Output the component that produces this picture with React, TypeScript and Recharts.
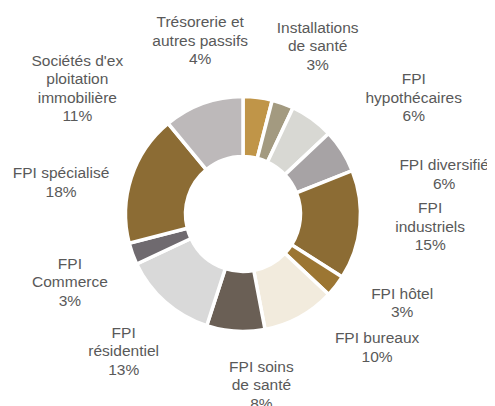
import { Cell, Pie, PieChart } from 'recharts';

// Catégories (lignes de libellé séparées par \n), parts en %
const categories = [
  'Trésorerie et\nautres passifs',
  'Installations\nde santé',
  'FPI\nhypothécaires',
  'FPI diversifié',
  'FPI\nindustriels',
  'FPI hôtel',
  'FPI bureaux',
  'FPI soins\nde santé',
  'FPI\nrésidentiel',
  'FPI\nCommerce',
  'FPI spécialisé',
  "Sociétés d'ex\nploitation\nimmobilière",
];

const shares = [4, 3, 6, 6, 15, 3, 10, 8, 13, 3, 18, 11];

const colors = [
  '#C09548',
  '#A39A80',
  '#D8D8D3',
  '#A7A3A5',
  '#8C6C34',
  '#9C7633',
  '#F2EBDD',
  '#6A5F55',
  '#D9D9D9',
  '#6F6A6F',
  '#8C6C34',
  '#BDB9BA',
];

// décalages des libellés (façon Excel) par rapport à la position radiale
const labelNudge: [number, number][] = [
  [-66, 10],
  [12, 6],
  [62, 33],
  [45, 59],
  [3, -5],
  [13, -25],
  [45, -29],
  [30, -14],
  [3, -2],
  [1, 5],
  [-6, 25],
  [-103, 48],
];

const data = categories.map((name, i) => ({ name, value: shares[i] }));

const RAD = Math.PI / 180;
const LABEL_R = 185 - 117.5;
const LINE_H = 18.5;

function renderLabel(props: any) {
  const { cx, cy, midAngle, outerRadius, index, value } = props;
  const r = outerRadius + LABEL_R;
  const [nx, ny] = labelNudge[index];
  const x = cx + r * Math.cos(-midAngle * RAD) + nx;
  const y = cy + r * Math.sin(-midAngle * RAD) + ny;
  const lines = [...categories[index].split('\n'), `${value}%`];
  const top = y - ((lines.length - 1) * LINE_H) / 2;
  return (
    <text
      key={`lbl-${index}`}
      x={x}
      y={top}
      textAnchor="middle"
      fill="#595959"
      fontSize={15.5}
      fontFamily="'Liberation Sans', Arial, sans-serif"
    >
      {lines.map((ln, j) => (
        <tspan key={j} x={x} y={top + j * LINE_H} dy="0.35em">
          {ln}
        </tspan>
      ))}
    </text>
  );
}

export default function App() {
  return (
    <PieChart width={487} height={398} margin={{ top: 0, right: 0, bottom: 0, left: 0 }}>
      <Pie
        data={data}
        dataKey="value"
        nameKey="name"
        cx={235}
        cy={206}
        innerRadius={57.5}
        outerRadius={117.5}
        startAngle={90}
        endAngle={-270}
        stroke="#ffffff"
        strokeWidth={3.5}
        label={renderLabel}
        labelLine={false}
        isAnimationActive={false}
      >
        {data.map((d, i) => (
          <Cell key={d.name} fill={colors[i]} />
        ))}
      </Pie>
    </PieChart>
  );
}
